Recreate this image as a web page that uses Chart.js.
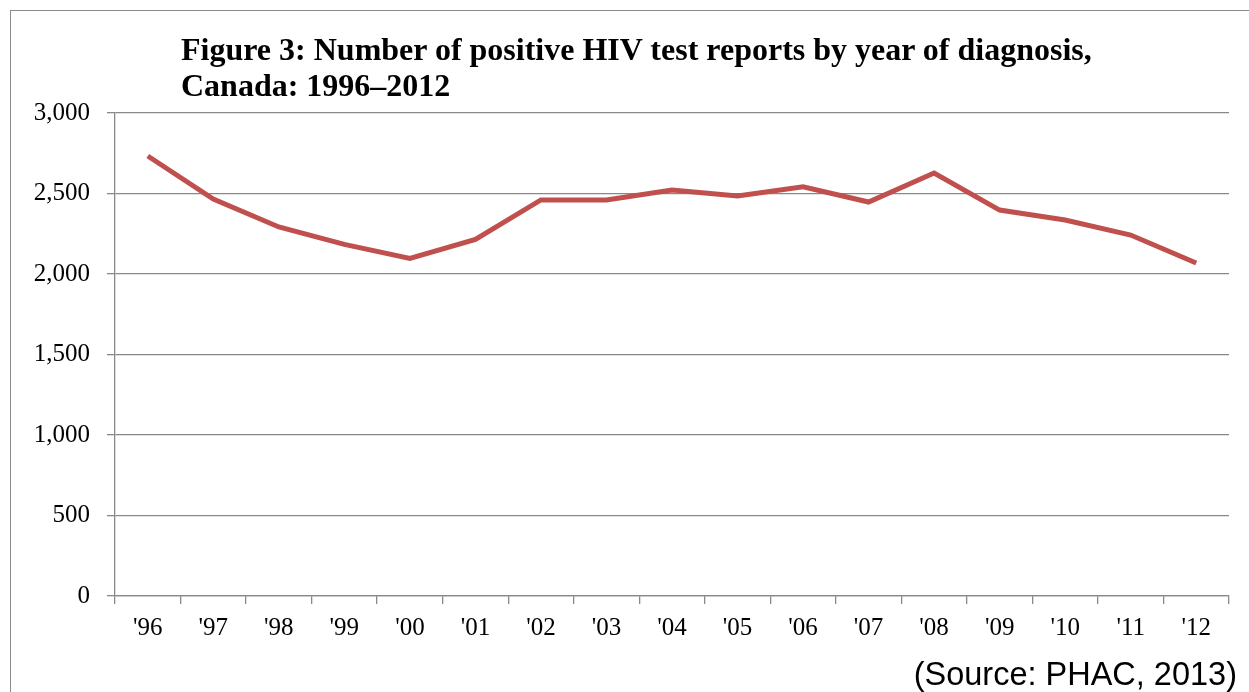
<!DOCTYPE html>
<html>
<head>
<meta charset="utf-8">
<title>Positive HIV test reports, Canada 1996-2012</title>
<script src="https://cdn.jsdelivr.net/npm/chart.js@4.4.1/dist/chart.umd.min.js"></script>
<style>
    html, body { margin: 0; padding: 0; background: #fff; overflow: hidden; }
    #wrap { position: relative; width: 1249px; height: 692px; overflow: hidden; }
    #frame {
        position: absolute; left: 10px; top: 10px;
        width: 1400px; height: 900px;
        border: 1.5px solid #8a8a8a;
    }
    #chart { position: absolute; left: 0; top: 0; }
    #title {
        position: absolute; left: 181px; top: 31px;
        font: bold 32px/36px "Liberation Serif", "Times New Roman", serif;
        color: #000; white-space: nowrap;
    }
    #source {
        position: absolute; right: 12px; top: 658px;
        font: 32.5px/33px "Liberation Sans", Arial, sans-serif;
        color: #000; white-space: nowrap;
    }
</style>
</head>
<body>
<div id="wrap">
    <div id="frame"></div>
    <canvas id="chart" width="1249" height="692"></canvas>
    <div id="title">Figure 3: Number of positive HIV test reports by year of diagnosis,<br>Canada: 1996–2012</div>
    <div id="source">(Source: PHAC, 2013)</div>
</div>
<script>
// Data
const years = ["'96", "'97", "'98", "'99", "'00", "'01", "'02", "'03", "'04",
               "'05", "'06", "'07", "'08", "'09", "'10", "'11", "'12"];
const positiveReports = [2733, 2466, 2292, 2184, 2097, 2215, 2460, 2460, 2522,
                         2484, 2542, 2447, 2627, 2397, 2335, 2242, 2068];
const yTicks = [0, 500, 1000, 1500, 2000, 2500, 3000];

const gridGray = '#898989';

Chart.defaults.font.family = "'Liberation Serif', 'Times New Roman', serif";
Chart.defaults.font.size = 25;
Chart.defaults.color = '#000';

const ctx = document.getElementById('chart');

new Chart(ctx, {
    type: 'line',
    data: {
        labels: years,
        datasets: [{
            label: 'Positive HIV test reports',
            data: positiveReports,
            borderColor: '#C0504D',
            borderWidth: 5,
            pointRadius: 0,
            tension: 0,
            fill: false
        }]
    },
    options: {
        responsive: false,
        animation: false,
        layout: {
            padding: { top: 113, right: 20, left: 0, bottom: 0 }
        },
        plugins: {
            legend: { display: false },
            tooltip: { enabled: false },
            title: { display: false }
        },
        scales: {
            x: {
                offset: true,
                grid: {
                    offset: true,
                    drawOnChartArea: false,
                    drawTicks: true,
                    tickLength: 8,
                    color: gridGray,
                    lineWidth: 1.3
                },
                border: { color: gridGray, width: 1.3 },
                ticks: { padding: 9, maxRotation: 0, autoSkip: false },
                afterFit: (scale) => { scale.height = 96; }
            },
            y: {
                min: 0,
                max: 3000,
                afterBuildTicks: (scale) => {
                    scale.ticks = yTicks.map(v => ({ value: v }));
                },
                grid: {
                    color: gridGray,
                    lineWidth: 1.3,
                    tickLength: 8
                },
                border: { color: gridGray, width: 1.3 },
                ticks: {
                    padding: 17,
                    callback: (v) => v.toLocaleString('en-US')
                },
                afterFit: (scale) => { scale.width = 115; }
            }
        }
    }
});
</script>
</body>
</html>
